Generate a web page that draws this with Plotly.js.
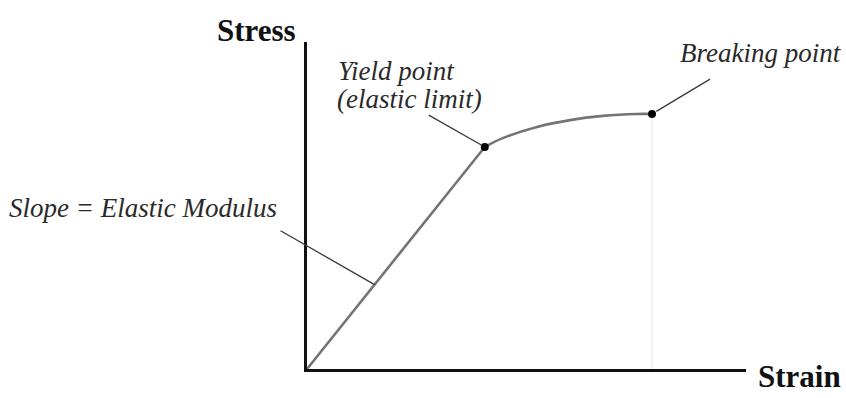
<!DOCTYPE html>
<html>
<head>
<meta charset="utf-8">
<script src="https://cdn.plot.ly/plotly-3.0.1.min.js"></script>
<style>
body{margin:0;padding:0;background:#fff;}
#myDiv{width:846px;height:398px;}
</style>
</head>
<body>
<div id="myDiv"></div>
<script>
// datos de la curva (unidades arbitrarias 0..10)
var tramoElasticoX = [0, 4.05];
var tramoElasticoY = [0, 6.79];

var tramoPlasticoX = [4.05, 4.46, 5.24, 5.99, 6.74, 7.52, 7.86];
var tramoPlasticoY = [6.79, 7.06, 7.40, 7.61, 7.74, 7.80, 7.80];

var puntosX = [4.05, 7.86];   // fluencia, rotura
var puntosY = [6.79, 7.80];

var fuente = 'Liberation Serif, Times New Roman, serif';
var gris = '#747474';

var trace1 = {
    x: tramoElasticoX,
    y: tramoElasticoY,
    mode: 'lines',
    line: {color: gris, width: 2.6},
    cliponaxis: false
};
var trace2 = {
    x: tramoPlasticoX,
    y: tramoPlasticoY,
    mode: 'lines',
    line: {color: gris, width: 2.6, shape: 'spline', smoothing: 1},
    cliponaxis: false
};
var trace3 = {
    x: puntosX,
    y: puntosY,
    mode: 'markers',
    marker: {color: '#000', size: 8},
    cliponaxis: false
};

var data = [trace1, trace2, trace3];

// punto medio del tramo elastico para la etiqueta de la pendiente
var pm = 0.38;
var pendX = tramoElasticoX[0] + pm * (tramoElasticoX[1] - tramoElasticoX[0]);
var pendY = tramoElasticoY[0] + pm * (tramoElasticoY[1] - tramoElasticoY[0]);

var textoItalic = {family: fuente, size: 27, color: '#2a2a2a'};
var textoBold = {family: fuente, size: 31, color: '#111'};
var lider = {showarrow: true, arrowhead: 0, arrowwidth: 1.3, arrowcolor: '#3a3a3a', text: ' ', font: {size: 2}};

// textos en coordenadas de papel (fuera del area se recortan si van en datos)
function etiqueta(px, py, txt, anchor, f) {
    return {xref: 'paper', yref: 'paper', x: px, y: py, text: txt, showarrow: false,
            xanchor: anchor, yanchor: 'middle', font: f};
}

var annotationContent = [
    etiqueta(-0.0205, 1.034, '<b>Stress</b>', 'right', textoBold),
    etiqueta(1.022, -0.024, '<b>Strain</b>', 'left', textoBold),
    etiqueta(-0.063, 0.492, '<i>Slope = Elastic Modulus</i>', 'right', textoItalic),
    etiqueta(0.066, 0.911, '<i>Yield point</i>', 'left', textoItalic),
    etiqueta(0.064, 0.825, '<i>(elastic limit)</i>', 'left', textoItalic),
    etiqueta(0.845, 0.966, '<i>Breaking point</i>', 'left', textoItalic),
    Object.assign({x: pendX, y: pendY, ax: -96, ay: -55, standoff: 0}, lider),
    Object.assign({x: puntosX[0], y: puntosY[0], ax: -58, ay: -33, standoff: 4}, lider),
    Object.assign({x: puntosX[1], y: puntosY[1], ax: 60, ay: -36, standoff: 5}, lider)
];

var layout = {
    width: 846,
    height: 398,
    margin: {l: 307, r: 100, t: 42, b: 29},
    paper_bgcolor: '#fff',
    plot_bgcolor: '#fff',
    showlegend: false,
    hovermode: false,
    xaxis: {range: [0, 10], showgrid: false, zeroline: false, showticklabels: false, ticks: '',
            showline: true, linecolor: '#111', linewidth: 3, fixedrange: true},
    yaxis: {range: [0, 10], showgrid: false, zeroline: false, showticklabels: false, ticks: '',
            showline: true, linecolor: '#111', linewidth: 3, fixedrange: true},
    shapes: [
        // linea tenue bajo el punto de rotura
        {type: 'line', xref: 'x', yref: 'y', x0: puntosX[1], x1: puntosX[1], y0: 0, y1: puntosY[1],
         line: {color: '#e6e6e6', width: 1}, layer: 'below'}
    ],
    annotations: annotationContent
};

Plotly.newPlot('myDiv', data, layout, {staticPlot: true, displayModeBar: false});
</script>
</body>
</html>
